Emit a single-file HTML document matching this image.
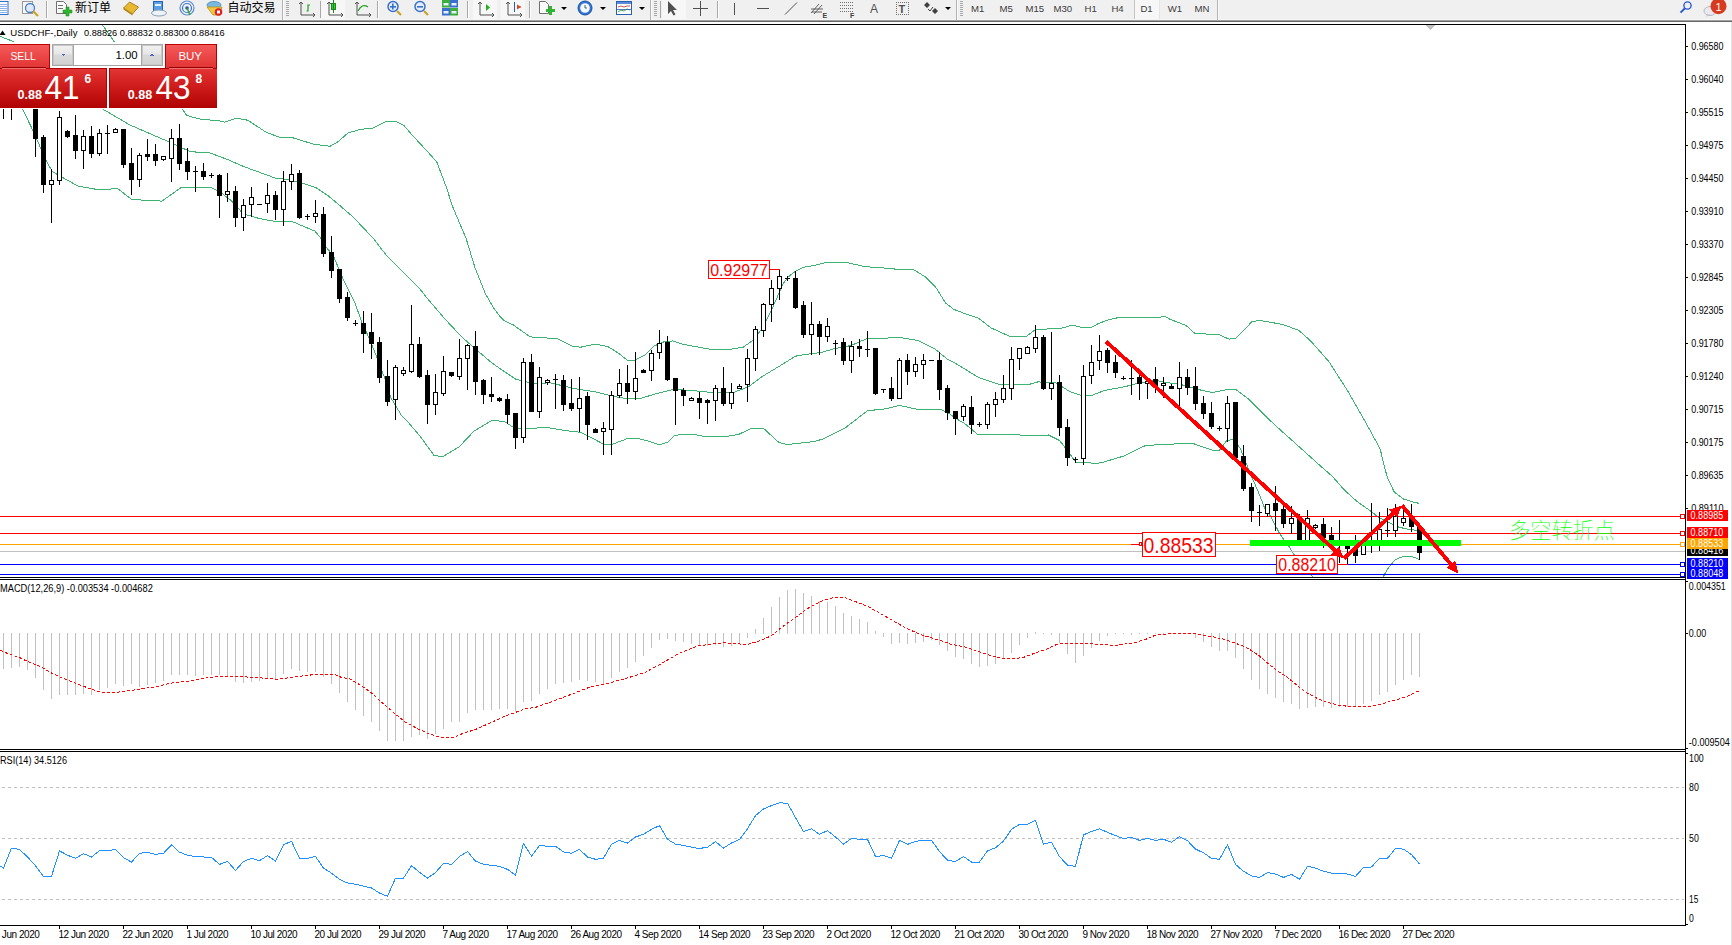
<!DOCTYPE html><html><head><meta charset="utf-8"><title>USDCHF-,Daily</title>
<style>html,body{margin:0;padding:0;background:#fff;width:1732px;height:945px;overflow:hidden}svg{display:block}text{white-space:pre}</style></head><body>
<svg width="1732" height="945" viewBox="0 0 1732 945" shape-rendering="crispEdges">
<rect x="0" y="22" width="1731" height="923" fill="#ffffff"/>
<rect x="1731" y="21" width="1" height="924" fill="#e2e2e2"/>
<rect x="0" y="24" width="1686" height="1" fill="#000"/>
<rect x="1685" y="24" width="1" height="902" fill="#000"/>
<rect x="0" y="577" width="1686" height="1" fill="#000"/>
<rect x="0" y="579" width="1686" height="1" fill="#000"/>
<rect x="0" y="749" width="1686" height="1" fill="#000"/>
<rect x="0" y="751" width="1686" height="1" fill="#000"/>
<rect x="0" y="925" width="1686" height="1" fill="#000"/>
<path d="M1425 25h10l-5 5z" fill="#c0c0c0"/>
<svg x="0" y="25" width="1685" height="552" viewBox="0 25 1685 552" overflow="hidden">
<polyline points="99.0,22.0 104.0,27.0 114.0,41.5 120.0,50.0 150.0,85.0 175.0,103.0 182.9,109.7 186.7,115.5 200.0,119.0 220.0,121.0 224.8,122.1 236.3,118.3 247.7,120.2 266.8,132.6 280.1,137.4 291.5,137.4 314.4,144.4 330.2,146.2 337.8,141.9 347.9,133.0 360.7,129.2 372.1,128.5 386.1,121.6 396.2,121.6 403.8,125.4 411.5,134.3 429.2,153.4 436.9,162.2 447.0,188.9 452.1,205.4 466.1,238.5 475.0,267.7 485.1,293.1 493.6,308.0 500.4,317.2 505.0,321.2 513.1,324.8 530.2,336.9 557.2,338.7 571.6,345.9 580.6,347.2 595.0,344.1 607.6,346.4 618.4,353.1 627.4,360.3 634.6,360.3 645.4,354.9 654.4,345.9 664.0,341.8 673.0,340.9 683.8,344.5 709.0,349.0 732.4,349.0 743.2,347.2 752.2,340.9 763.0,327.4 770.2,313.0 777.4,296.8 782.8,284.2 788.2,277.0 795.4,271.2 804.4,267.1 815.0,265.3 825.1,262.6 847.2,262.6 865.3,266.7 885.4,268.1 899.5,269.5 913.5,269.5 925.6,277.1 935.7,287.2 945.7,303.2 953.7,309.3 965.0,313.7 978.4,318.0 991.0,327.9 1009.0,336.0 1027.0,336.0 1036.0,329.2 1059.4,328.8 1072.0,325.2 1082.0,327.4 1091.4,327.4 1098.7,323.4 1109.1,319.6 1118.8,317.5 1159.0,317.5 1164.5,316.3 1170.1,319.3 1186.0,325.5 1195.0,333.5 1199.5,333.6 1219.6,334.9 1228.9,339.1 1235.9,338.4 1252.2,321.4 1260.3,320.5 1282.4,324.4 1298.7,330.3 1310.4,340.7 1329.0,361.7 1347.6,390.8 1366.2,423.4 1380.2,449.0 1384.0,465.0 1387.2,476.9 1394.2,492.0 1403.5,499.0 1411.3,501.5 1419.5,503.5" fill="none" stroke="#3cb371" stroke-width="1" shape-rendering="crispEdges"/>
<polyline points="0.0,36.4 12.4,41.1 40.0,62.0 70.0,85.0 95.0,103.0 104.0,109.8 130.0,125.0 168.3,141.6 190.5,151.7 210.0,152.9 228.7,160.0 244.3,166.8 275.7,178.2 288.0,179.5 303.3,183.3 316.7,188.1 328.0,195.7 335.2,201.6 353.0,216.9 373.4,238.5 386.1,255.0 403.8,272.8 419.1,288.0 429.2,300.7 444.5,318.5 462.3,337.5 479.2,352.1 491.8,362.9 505.0,372.0 515.8,379.2 533.8,383.7 550.0,382.8 577.0,389.1 595.0,391.8 613.0,396.3 629.2,399.0 641.8,398.1 655.0,394.0 673.0,389.5 691.0,390.4 709.0,392.2 734.2,392.2 748.6,386.8 763.0,376.0 781.0,365.2 795.4,356.2 805.0,354.5 821.1,352.5 835.2,348.5 851.2,345.5 867.3,338.4 881.4,338.4 899.5,337.4 917.6,340.4 935.7,349.5 947.7,359.5 955.0,363.0 978.4,377.4 1000.0,384.6 1027.0,385.0 1037.8,381.9 1055.8,382.8 1070.2,391.8 1081.0,395.4 1091.8,395.4 1105.0,390.3 1125.1,386.7 1137.2,383.3 1155.3,380.3 1171.3,383.3 1180.0,384.3 1198.6,389.6 1212.6,392.6 1226.6,389.6 1235.9,389.6 1249.8,400.1 1273.1,423.4 1296.4,444.3 1319.7,465.3 1333.0,477.0 1342.9,488.5 1349.8,495.0 1357.0,501.5 1370.8,511.2 1378.9,517.6 1387.0,521.7 1393.5,524.9 1399.1,527.3 1407.2,529.0 1419.5,530.8" fill="none" stroke="#3cb371" stroke-width="1" shape-rendering="crispEdges"/>
<polyline points="0.0,62.0 10.0,80.0 18.0,98.0 23.0,109.8 35.0,135.0 45.7,160.0 52.4,171.7 77.8,186.0 100.0,190.0 117.5,188.4 131.7,199.5 162.0,201.1 181.0,187.6 210.0,187.1 221.4,192.9 231.0,200.5 243.3,213.8 259.5,218.6 274.8,221.4 291.9,221.4 305.2,227.1 314.8,231.0 320.5,237.6 326.2,247.1 333.8,256.7 343.3,279.5 354.8,302.4 362.2,323.3 369.4,338.6 376.6,356.6 384.7,378.2 391.0,398.0 401.8,416.0 409.0,423.2 419.8,435.8 434.2,455.6 443.2,456.5 459.4,446.6 473.8,431.3 491.8,420.5 504.4,421.4 514.0,427.8 526.6,428.7 546.4,427.4 564.4,430.5 580.6,432.3 591.4,437.7 603.1,444.0 613.0,444.0 627.4,438.6 638.2,438.6 649.0,441.3 659.3,444.8 667.4,442.4 675.0,435.2 687.4,434.3 696.0,434.8 704.5,436.4 726.4,436.4 738.8,434.3 750.2,429.0 754.0,428.4 763.6,428.4 778.8,442.4 787.4,444.6 815.0,441.4 823.1,438.9 845.2,427.9 867.3,410.8 885.4,408.8 899.5,405.4 917.6,409.4 941.7,409.8 949.7,413.8 955.0,417.9 965.0,423.8 978.4,435.0 1009.0,434.1 1030.6,435.9 1048.6,435.0 1059.4,440.4 1066.6,449.4 1075.6,462.0 1097.2,463.4 1105.0,461.7 1125.1,455.6 1145.2,445.6 1165.3,444.2 1193.4,443.6 1207.5,448.6 1212.6,450.1 1219.6,450.1 1226.6,440.8 1233.5,439.2 1240.5,449.0 1249.8,472.3 1257.8,490.8 1265.0,508.9 1270.8,516.5 1279.8,534.0 1290.0,548.0 1294.4,555.3 1305.0,568.0 1315.7,580.0 1330.0,590.0 1370.0,590.0 1383.4,576.5 1387.0,570.0 1390.0,566.0 1395.0,559.7 1403.2,556.4 1411.3,556.3 1419.5,559.5" fill="none" stroke="#3cb371" stroke-width="1" shape-rendering="crispEdges"/>
<rect x="0" y="516" width="1685" height="1" fill="#ff0000"/>
<rect x="0" y="533" width="1685" height="1" fill="#ff0000"/>
<rect x="0" y="544" width="1685" height="1" fill="#ffa500"/>
<rect x="0" y="551" width="1685" height="1" fill="#c0c0c0"/>
<rect x="0" y="564" width="1685" height="1" fill="#0000ff"/>
<rect x="0" y="574" width="1685" height="1" fill="#0000ff"/>
<rect x="3" y="55" width="1" height="64"/>
<rect x="1" y="60" width="5" height="41"/>
<rect x="11" y="60" width="1" height="60"/>
<rect x="9" y="70" width="5" height="31"/>
<rect x="10" y="71" width="3" height="29" fill="#fff"/>
<rect x="19" y="50" width="1" height="51"/>
<rect x="17" y="60" width="5" height="31"/>
<rect x="27" y="55" width="1" height="46"/>
<rect x="25" y="60" width="5" height="31"/>
<rect x="26" y="61" width="3" height="29" fill="#fff"/>
<rect x="35" y="90" width="1" height="67"/>
<rect x="33" y="95" width="5" height="44"/>
<rect x="43" y="135" width="1" height="58"/>
<rect x="41" y="137" width="5" height="48"/>
<rect x="51" y="169" width="1" height="54"/>
<rect x="49" y="180" width="5" height="5"/>
<rect x="50" y="181" width="3" height="3" fill="#fff"/>
<rect x="59" y="111" width="1" height="74"/>
<rect x="57" y="117" width="5" height="64"/>
<rect x="58" y="118" width="3" height="62" fill="#fff"/>
<rect x="67" y="130" width="1" height="8"/>
<rect x="65" y="131" width="5" height="6"/>
<rect x="75" y="115" width="1" height="44"/>
<rect x="73" y="135" width="5" height="16"/>
<rect x="83" y="130" width="1" height="39"/>
<rect x="81" y="136" width="5" height="15"/>
<rect x="82" y="137" width="3" height="13" fill="#fff"/>
<rect x="91" y="126" width="1" height="32"/>
<rect x="89" y="136" width="5" height="18"/>
<rect x="99" y="129" width="1" height="27"/>
<rect x="97" y="133" width="5" height="21"/>
<rect x="98" y="134" width="3" height="19" fill="#fff"/>
<rect x="107" y="125" width="1" height="29"/>
<rect x="105" y="133" width="5" height="1"/>
<rect x="115" y="128" width="1" height="5"/>
<rect x="113" y="129" width="5" height="4"/>
<rect x="114" y="130" width="3" height="2" fill="#fff"/>
<rect x="123" y="129" width="1" height="39"/>
<rect x="121" y="129" width="5" height="36"/>
<rect x="131" y="148" width="1" height="47"/>
<rect x="129" y="163" width="5" height="17"/>
<rect x="139" y="153" width="1" height="34"/>
<rect x="137" y="155" width="5" height="25"/>
<rect x="138" y="156" width="3" height="23" fill="#fff"/>
<rect x="147" y="139" width="1" height="22"/>
<rect x="145" y="154" width="5" height="3"/>
<rect x="155" y="144" width="1" height="22"/>
<rect x="153" y="154" width="5" height="7"/>
<rect x="163" y="156" width="1" height="5"/>
<rect x="161" y="156" width="5" height="4"/>
<rect x="162" y="157" width="3" height="2" fill="#fff"/>
<rect x="171" y="129" width="1" height="53"/>
<rect x="169" y="138" width="5" height="21"/>
<rect x="170" y="139" width="3" height="19" fill="#fff"/>
<rect x="179" y="124" width="1" height="46"/>
<rect x="177" y="138" width="5" height="26"/>
<rect x="187" y="148" width="1" height="32"/>
<rect x="185" y="161" width="5" height="11"/>
<rect x="195" y="166" width="1" height="26"/>
<rect x="193" y="171" width="5" height="1"/>
<rect x="203" y="163" width="1" height="17"/>
<rect x="201" y="171" width="5" height="6"/>
<rect x="211" y="173" width="1" height="5"/>
<rect x="209" y="175" width="5" height="1"/>
<rect x="219" y="174" width="1" height="44"/>
<rect x="217" y="175" width="5" height="21"/>
<rect x="227" y="173" width="1" height="29"/>
<rect x="225" y="191" width="5" height="4"/>
<rect x="226" y="192" width="3" height="2" fill="#fff"/>
<rect x="235" y="186" width="1" height="41"/>
<rect x="233" y="191" width="5" height="27"/>
<rect x="243" y="199" width="1" height="32"/>
<rect x="241" y="205" width="5" height="13"/>
<rect x="242" y="206" width="3" height="11" fill="#fff"/>
<rect x="251" y="187" width="1" height="30"/>
<rect x="249" y="197" width="5" height="8"/>
<rect x="250" y="198" width="3" height="6" fill="#fff"/>
<rect x="257" y="204" width="5" height="1"/>
<rect x="267" y="183" width="1" height="30"/>
<rect x="265" y="195" width="5" height="9"/>
<rect x="266" y="196" width="3" height="7" fill="#fff"/>
<rect x="275" y="191" width="1" height="29"/>
<rect x="273" y="195" width="5" height="15"/>
<rect x="283" y="171" width="1" height="55"/>
<rect x="281" y="181" width="5" height="29"/>
<rect x="282" y="182" width="3" height="27" fill="#fff"/>
<rect x="291" y="164" width="1" height="26"/>
<rect x="289" y="174" width="5" height="8"/>
<rect x="290" y="175" width="3" height="6" fill="#fff"/>
<rect x="299" y="170" width="1" height="49"/>
<rect x="297" y="173" width="5" height="45"/>
<rect x="307" y="214" width="1" height="6"/>
<rect x="305" y="216" width="5" height="1"/>
<rect x="315" y="200" width="1" height="23"/>
<rect x="313" y="213" width="5" height="4"/>
<rect x="314" y="214" width="3" height="2" fill="#fff"/>
<rect x="323" y="207" width="1" height="50"/>
<rect x="321" y="214" width="5" height="40"/>
<rect x="331" y="236" width="1" height="42"/>
<rect x="329" y="252" width="5" height="19"/>
<rect x="339" y="269" width="1" height="34"/>
<rect x="337" y="269" width="5" height="30"/>
<rect x="347" y="292" width="1" height="29"/>
<rect x="345" y="297" width="5" height="21"/>
<rect x="355" y="320" width="1" height="6"/>
<rect x="353" y="323" width="5" height="1"/>
<rect x="363" y="311" width="1" height="42"/>
<rect x="361" y="323" width="5" height="11"/>
<rect x="371" y="313" width="1" height="46"/>
<rect x="369" y="332" width="5" height="12"/>
<rect x="379" y="337" width="1" height="46"/>
<rect x="377" y="342" width="5" height="36"/>
<rect x="387" y="360" width="1" height="46"/>
<rect x="385" y="376" width="5" height="26"/>
<rect x="395" y="365" width="1" height="55"/>
<rect x="393" y="367" width="5" height="33"/>
<rect x="394" y="368" width="3" height="31" fill="#fff"/>
<rect x="403" y="367" width="1" height="9"/>
<rect x="401" y="370" width="5" height="4"/>
<rect x="402" y="371" width="3" height="2" fill="#fff"/>
<rect x="411" y="305" width="1" height="68"/>
<rect x="409" y="344" width="5" height="28"/>
<rect x="410" y="345" width="3" height="26" fill="#fff"/>
<rect x="419" y="337" width="1" height="41"/>
<rect x="417" y="344" width="5" height="33"/>
<rect x="427" y="370" width="1" height="54"/>
<rect x="425" y="375" width="5" height="30"/>
<rect x="435" y="374" width="1" height="41"/>
<rect x="433" y="392" width="5" height="13"/>
<rect x="434" y="393" width="3" height="11" fill="#fff"/>
<rect x="443" y="356" width="1" height="40"/>
<rect x="441" y="371" width="5" height="23"/>
<rect x="442" y="372" width="3" height="21" fill="#fff"/>
<rect x="451" y="372" width="1" height="5"/>
<rect x="449" y="372" width="5" height="4"/>
<rect x="459" y="339" width="1" height="41"/>
<rect x="457" y="358" width="5" height="19"/>
<rect x="458" y="359" width="3" height="17" fill="#fff"/>
<rect x="467" y="344" width="1" height="46"/>
<rect x="465" y="345" width="5" height="14"/>
<rect x="466" y="346" width="3" height="12" fill="#fff"/>
<rect x="475" y="331" width="1" height="64"/>
<rect x="473" y="346" width="5" height="36"/>
<rect x="483" y="379" width="1" height="25"/>
<rect x="481" y="380" width="5" height="15"/>
<rect x="491" y="377" width="1" height="25"/>
<rect x="489" y="394" width="5" height="3"/>
<rect x="499" y="397" width="1" height="5"/>
<rect x="497" y="398" width="5" height="3"/>
<rect x="507" y="394" width="1" height="30"/>
<rect x="505" y="399" width="5" height="16"/>
<rect x="515" y="413" width="1" height="36"/>
<rect x="513" y="413" width="5" height="25"/>
<rect x="523" y="358" width="1" height="85"/>
<rect x="521" y="362" width="5" height="76"/>
<rect x="522" y="363" width="3" height="74" fill="#fff"/>
<rect x="531" y="354" width="1" height="58"/>
<rect x="529" y="362" width="5" height="50"/>
<rect x="539" y="367" width="1" height="51"/>
<rect x="537" y="377" width="5" height="35"/>
<rect x="538" y="378" width="3" height="33" fill="#fff"/>
<rect x="547" y="379" width="1" height="6"/>
<rect x="545" y="380" width="5" height="3"/>
<rect x="546" y="381" width="3" height="1" fill="#fff"/>
<rect x="555" y="374" width="1" height="35"/>
<rect x="553" y="379" width="5" height="1"/>
<rect x="563" y="375" width="1" height="36"/>
<rect x="561" y="380" width="5" height="25"/>
<rect x="571" y="379" width="1" height="32"/>
<rect x="569" y="403" width="5" height="6"/>
<rect x="579" y="377" width="1" height="55"/>
<rect x="577" y="398" width="5" height="11"/>
<rect x="578" y="399" width="3" height="9" fill="#fff"/>
<rect x="587" y="392" width="1" height="48"/>
<rect x="585" y="396" width="5" height="29"/>
<rect x="595" y="428" width="1" height="5"/>
<rect x="593" y="429" width="5" height="4"/>
<rect x="603" y="422" width="1" height="33"/>
<rect x="601" y="428" width="5" height="4"/>
<rect x="602" y="429" width="3" height="2" fill="#fff"/>
<rect x="611" y="391" width="1" height="64"/>
<rect x="609" y="395" width="5" height="35"/>
<rect x="610" y="396" width="3" height="33" fill="#fff"/>
<rect x="619" y="369" width="1" height="29"/>
<rect x="617" y="383" width="5" height="13"/>
<rect x="618" y="384" width="3" height="11" fill="#fff"/>
<rect x="627" y="365" width="1" height="39"/>
<rect x="625" y="383" width="5" height="9"/>
<rect x="635" y="352" width="1" height="48"/>
<rect x="633" y="378" width="5" height="14"/>
<rect x="634" y="379" width="3" height="12" fill="#fff"/>
<rect x="643" y="369" width="1" height="4"/>
<rect x="641" y="370" width="5" height="3"/>
<rect x="651" y="350" width="1" height="31"/>
<rect x="649" y="353" width="5" height="18"/>
<rect x="650" y="354" width="3" height="16" fill="#fff"/>
<rect x="659" y="330" width="1" height="29"/>
<rect x="657" y="343" width="5" height="10"/>
<rect x="658" y="344" width="3" height="8" fill="#fff"/>
<rect x="667" y="336" width="1" height="45"/>
<rect x="665" y="342" width="5" height="38"/>
<rect x="675" y="378" width="1" height="47"/>
<rect x="673" y="378" width="5" height="13"/>
<rect x="683" y="388" width="1" height="18"/>
<rect x="681" y="390" width="5" height="6"/>
<rect x="691" y="397" width="1" height="4"/>
<rect x="689" y="398" width="5" height="3"/>
<rect x="690" y="399" width="3" height="1" fill="#fff"/>
<rect x="699" y="392" width="1" height="27"/>
<rect x="697" y="398" width="5" height="5"/>
<rect x="707" y="399" width="1" height="25"/>
<rect x="705" y="400" width="5" height="3"/>
<rect x="715" y="385" width="1" height="36"/>
<rect x="713" y="388" width="5" height="13"/>
<rect x="714" y="389" width="3" height="11" fill="#fff"/>
<rect x="723" y="367" width="1" height="39"/>
<rect x="721" y="388" width="5" height="16"/>
<rect x="731" y="383" width="1" height="26"/>
<rect x="729" y="392" width="5" height="12"/>
<rect x="730" y="393" width="3" height="10" fill="#fff"/>
<rect x="739" y="384" width="1" height="5"/>
<rect x="737" y="386" width="5" height="3"/>
<rect x="738" y="387" width="3" height="1" fill="#fff"/>
<rect x="747" y="349" width="1" height="53"/>
<rect x="745" y="358" width="5" height="27"/>
<rect x="746" y="359" width="3" height="25" fill="#fff"/>
<rect x="755" y="326" width="1" height="45"/>
<rect x="753" y="329" width="5" height="30"/>
<rect x="754" y="330" width="3" height="28" fill="#fff"/>
<rect x="763" y="303" width="1" height="34"/>
<rect x="761" y="304" width="5" height="27"/>
<rect x="762" y="305" width="3" height="25" fill="#fff"/>
<rect x="771" y="280" width="1" height="42"/>
<rect x="769" y="288" width="5" height="17"/>
<rect x="770" y="289" width="3" height="15" fill="#fff"/>
<rect x="779" y="270" width="1" height="30"/>
<rect x="777" y="276" width="5" height="13"/>
<rect x="778" y="277" width="3" height="11" fill="#fff"/>
<rect x="787" y="276" width="1" height="5"/>
<rect x="785" y="278" width="5" height="1"/>
<rect x="795" y="271" width="1" height="38"/>
<rect x="793" y="278" width="5" height="30"/>
<rect x="803" y="301" width="1" height="37"/>
<rect x="801" y="305" width="5" height="30"/>
<rect x="811" y="302" width="1" height="53"/>
<rect x="809" y="324" width="5" height="11"/>
<rect x="810" y="325" width="3" height="9" fill="#fff"/>
<rect x="819" y="321" width="1" height="34"/>
<rect x="817" y="324" width="5" height="13"/>
<rect x="827" y="318" width="1" height="24"/>
<rect x="825" y="326" width="5" height="11"/>
<rect x="826" y="327" width="3" height="9" fill="#fff"/>
<rect x="835" y="340" width="1" height="15"/>
<rect x="833" y="343" width="5" height="1"/>
<rect x="843" y="338" width="1" height="27"/>
<rect x="841" y="342" width="5" height="19"/>
<rect x="851" y="341" width="1" height="32"/>
<rect x="849" y="346" width="5" height="15"/>
<rect x="850" y="347" width="3" height="13" fill="#fff"/>
<rect x="859" y="339" width="1" height="18"/>
<rect x="857" y="346" width="5" height="3"/>
<rect x="867" y="331" width="1" height="26"/>
<rect x="865" y="349" width="5" height="1"/>
<rect x="875" y="348" width="1" height="47"/>
<rect x="873" y="348" width="5" height="46"/>
<rect x="883" y="389" width="1" height="4"/>
<rect x="881" y="389" width="5" height="1"/>
<rect x="891" y="377" width="1" height="24"/>
<rect x="889" y="388" width="5" height="11"/>
<rect x="899" y="358" width="1" height="41"/>
<rect x="897" y="360" width="5" height="39"/>
<rect x="898" y="361" width="3" height="37" fill="#fff"/>
<rect x="907" y="354" width="1" height="31"/>
<rect x="905" y="360" width="5" height="12"/>
<rect x="915" y="357" width="1" height="20"/>
<rect x="913" y="364" width="5" height="8"/>
<rect x="914" y="365" width="3" height="6" fill="#fff"/>
<rect x="923" y="354" width="1" height="25"/>
<rect x="921" y="360" width="5" height="5"/>
<rect x="922" y="361" width="3" height="3" fill="#fff"/>
<rect x="929" y="360" width="5" height="1"/>
<rect x="939" y="352" width="1" height="48"/>
<rect x="937" y="360" width="5" height="30"/>
<rect x="947" y="385" width="1" height="35"/>
<rect x="945" y="388" width="5" height="25"/>
<rect x="955" y="411" width="1" height="24"/>
<rect x="953" y="411" width="5" height="8"/>
<rect x="963" y="404" width="1" height="17"/>
<rect x="961" y="406" width="5" height="11"/>
<rect x="962" y="407" width="3" height="9" fill="#fff"/>
<rect x="971" y="396" width="1" height="38"/>
<rect x="969" y="407" width="5" height="18"/>
<rect x="979" y="422" width="1" height="5"/>
<rect x="977" y="424" width="5" height="1"/>
<rect x="987" y="402" width="1" height="27"/>
<rect x="985" y="404" width="5" height="21"/>
<rect x="986" y="405" width="3" height="19" fill="#fff"/>
<rect x="995" y="392" width="1" height="25"/>
<rect x="993" y="399" width="5" height="6"/>
<rect x="994" y="400" width="3" height="4" fill="#fff"/>
<rect x="1003" y="375" width="1" height="28"/>
<rect x="1001" y="388" width="5" height="12"/>
<rect x="1002" y="389" width="3" height="10" fill="#fff"/>
<rect x="1011" y="347" width="1" height="53"/>
<rect x="1009" y="359" width="5" height="30"/>
<rect x="1010" y="360" width="3" height="28" fill="#fff"/>
<rect x="1019" y="348" width="1" height="22"/>
<rect x="1017" y="348" width="5" height="11"/>
<rect x="1018" y="349" width="3" height="9" fill="#fff"/>
<rect x="1027" y="346" width="1" height="8"/>
<rect x="1025" y="347" width="5" height="7"/>
<rect x="1026" y="348" width="3" height="5" fill="#fff"/>
<rect x="1035" y="325" width="1" height="28"/>
<rect x="1033" y="337" width="5" height="12"/>
<rect x="1034" y="338" width="3" height="10" fill="#fff"/>
<rect x="1043" y="335" width="1" height="55"/>
<rect x="1041" y="337" width="5" height="52"/>
<rect x="1051" y="332" width="1" height="68"/>
<rect x="1049" y="383" width="5" height="6"/>
<rect x="1050" y="384" width="3" height="4" fill="#fff"/>
<rect x="1059" y="375" width="1" height="61"/>
<rect x="1057" y="382" width="5" height="46"/>
<rect x="1067" y="419" width="1" height="47"/>
<rect x="1065" y="427" width="5" height="31"/>
<rect x="1075" y="457" width="1" height="6"/>
<rect x="1073" y="459" width="5" height="1"/>
<rect x="1083" y="365" width="1" height="100"/>
<rect x="1081" y="376" width="5" height="83"/>
<rect x="1082" y="377" width="3" height="81" fill="#fff"/>
<rect x="1091" y="345" width="1" height="39"/>
<rect x="1089" y="362" width="5" height="14"/>
<rect x="1090" y="363" width="3" height="12" fill="#fff"/>
<rect x="1099" y="335" width="1" height="35"/>
<rect x="1097" y="351" width="5" height="10"/>
<rect x="1098" y="352" width="3" height="8" fill="#fff"/>
<rect x="1107" y="348" width="1" height="25"/>
<rect x="1105" y="350" width="5" height="13"/>
<rect x="1115" y="355" width="1" height="23"/>
<rect x="1113" y="362" width="5" height="11"/>
<rect x="1123" y="376" width="1" height="4"/>
<rect x="1121" y="378" width="5" height="1"/>
<rect x="1131" y="360" width="1" height="35"/>
<rect x="1129" y="378" width="5" height="1"/>
<rect x="1139" y="373" width="1" height="27"/>
<rect x="1137" y="377" width="5" height="7"/>
<rect x="1147" y="380" width="1" height="19"/>
<rect x="1145" y="381" width="5" height="3"/>
<rect x="1146" y="382" width="3" height="1" fill="#fff"/>
<rect x="1155" y="367" width="1" height="26"/>
<rect x="1153" y="379" width="5" height="7"/>
<rect x="1163" y="377" width="1" height="21"/>
<rect x="1161" y="383" width="5" height="3"/>
<rect x="1162" y="384" width="3" height="1" fill="#fff"/>
<rect x="1171" y="384" width="1" height="5"/>
<rect x="1169" y="386" width="5" height="3"/>
<rect x="1179" y="362" width="1" height="45"/>
<rect x="1177" y="377" width="5" height="12"/>
<rect x="1178" y="378" width="3" height="10" fill="#fff"/>
<rect x="1187" y="369" width="1" height="26"/>
<rect x="1185" y="377" width="5" height="11"/>
<rect x="1195" y="367" width="1" height="43"/>
<rect x="1193" y="386" width="5" height="18"/>
<rect x="1203" y="396" width="1" height="23"/>
<rect x="1201" y="403" width="5" height="11"/>
<rect x="1211" y="402" width="1" height="27"/>
<rect x="1209" y="413" width="5" height="14"/>
<rect x="1219" y="426" width="1" height="5"/>
<rect x="1217" y="428" width="5" height="1"/>
<rect x="1227" y="396" width="1" height="46"/>
<rect x="1225" y="403" width="5" height="26"/>
<rect x="1226" y="404" width="3" height="24" fill="#fff"/>
<rect x="1235" y="402" width="1" height="56"/>
<rect x="1233" y="402" width="5" height="56"/>
<rect x="1243" y="445" width="1" height="46"/>
<rect x="1241" y="456" width="5" height="33"/>
<rect x="1251" y="483" width="1" height="39"/>
<rect x="1249" y="487" width="5" height="24"/>
<rect x="1259" y="505" width="1" height="21"/>
<rect x="1257" y="512" width="5" height="1"/>
<rect x="1267" y="504" width="1" height="13"/>
<rect x="1265" y="504" width="5" height="10"/>
<rect x="1266" y="505" width="3" height="8" fill="#fff"/>
<rect x="1275" y="486" width="1" height="45"/>
<rect x="1273" y="503" width="5" height="8"/>
<rect x="1283" y="506" width="1" height="22"/>
<rect x="1281" y="509" width="5" height="15"/>
<rect x="1291" y="506" width="1" height="28"/>
<rect x="1289" y="518" width="5" height="6"/>
<rect x="1290" y="519" width="3" height="4" fill="#fff"/>
<rect x="1299" y="514" width="1" height="29"/>
<rect x="1297" y="519" width="5" height="23"/>
<rect x="1307" y="510" width="1" height="34"/>
<rect x="1305" y="518" width="5" height="24"/>
<rect x="1306" y="519" width="3" height="22" fill="#fff"/>
<rect x="1315" y="524" width="1" height="5"/>
<rect x="1313" y="525" width="5" height="3"/>
<rect x="1314" y="526" width="3" height="1" fill="#fff"/>
<rect x="1323" y="518" width="1" height="30"/>
<rect x="1321" y="524" width="5" height="14"/>
<rect x="1331" y="527" width="1" height="17"/>
<rect x="1329" y="535" width="5" height="8"/>
<rect x="1339" y="520" width="1" height="43"/>
<rect x="1337" y="542" width="5" height="1"/>
<rect x="1347" y="546" width="1" height="19"/>
<rect x="1345" y="546" width="5" height="3"/>
<rect x="1355" y="535" width="1" height="28"/>
<rect x="1353" y="548" width="5" height="8"/>
<rect x="1363" y="541" width="1" height="14"/>
<rect x="1361" y="545" width="5" height="10"/>
<rect x="1362" y="546" width="3" height="8" fill="#fff"/>
<rect x="1371" y="503" width="1" height="50"/>
<rect x="1369" y="542" width="5" height="1"/>
<rect x="1379" y="512" width="1" height="39"/>
<rect x="1377" y="529" width="5" height="14"/>
<rect x="1378" y="530" width="3" height="12" fill="#fff"/>
<rect x="1387" y="508" width="1" height="29"/>
<rect x="1385" y="530" width="5" height="1"/>
<rect x="1395" y="504" width="1" height="33"/>
<rect x="1393" y="516" width="5" height="15"/>
<rect x="1394" y="517" width="3" height="13" fill="#fff"/>
<rect x="1403" y="510" width="1" height="16"/>
<rect x="1401" y="518" width="5" height="5"/>
<rect x="1402" y="519" width="3" height="3" fill="#fff"/>
<rect x="1411" y="504" width="1" height="28"/>
<rect x="1409" y="518" width="5" height="9"/>
<rect x="1419" y="525" width="1" height="35"/>
<rect x="1417" y="526" width="5" height="27"/>
<rect x="1680.5" y="514.5" width="4" height="4" fill="#fff" stroke="#ff0000" stroke-width="1"/>
<rect x="1680.5" y="531.5" width="4" height="4" fill="#fff" stroke="#ff0000" stroke-width="1"/>
<rect x="1680.5" y="542.5" width="4" height="4" fill="#fff" stroke="#ffa500" stroke-width="1"/>
<rect x="1680.5" y="562.5" width="4" height="4" fill="#fff" stroke="#0000ff" stroke-width="1"/>
<rect x="1680.5" y="572.5" width="4" height="4" fill="#fff" stroke="#0000ff" stroke-width="1"/>
<rect x="1250" y="540" width="211" height="6" fill="#00ff00"/>
<line x1="1106.0" y1="341.5" x2="1336.6" y2="551.8" stroke="#ff0000" stroke-width="4"/>
<path d="M1344.0 558.5 L1331.4 554.5 L1338.8 546.4 z" fill="#ff0000"/>
<line x1="1344.0" y1="558.5" x2="1394.6" y2="512.2" stroke="#ff0000" stroke-width="4"/>
<path d="M1402.0 505.5 L1396.9 517.7 L1389.4 509.5 z" fill="#ff0000"/>
<line x1="1402.0" y1="505.5" x2="1452.1" y2="565.8" stroke="#ff0000" stroke-width="4"/>
<path d="M1458.5 573.5 L1446.6 567.8 L1455.1 560.8 z" fill="#ff0000"/>
<rect x="708.5" y="260.5" width="61" height="18" fill="#fff" stroke="#ff0000"/>
<rect x="770" y="269" width="10" height="1" fill="#ff0000"/>
<text x="710.2" y="276.1" font-family="'Liberation Sans', Arial, sans-serif" font-size="17" fill="#ff0000" textLength="57.8" lengthAdjust="spacingAndGlyphs">0.92977</text>
<rect x="1131" y="544" width="8" height="1" fill="#ff0000"/>
<rect x="1139.5" y="542.5" width="2" height="2.5" fill="#fff" stroke="#ff0000"/>
<rect x="1142.5" y="532.5" width="73" height="24" fill="#fff" stroke="#ff0000"/>
<text x="1143.6" y="552.6" font-family="'Liberation Sans', Arial, sans-serif" font-size="22.4" fill="#ff0000" textLength="70" lengthAdjust="spacingAndGlyphs">0.88533</text>
<rect x="1276.5" y="555.5" width="61" height="18" fill="#fff" stroke="#ff0000"/>
<rect x="1338" y="564" width="10" height="1" fill="#ff0000"/>
<text x="1278.3" y="571.3" font-family="'Liberation Sans', Arial, sans-serif" font-size="17.6" fill="#ff0000" textLength="57.6" lengthAdjust="spacingAndGlyphs">0.88210</text>
<text x="1509" y="538" font-family="'Liberation Sans', 'Noto Sans CJK SC', sans-serif" font-size="21.2" font-weight="100" fill="#00ff00" textLength="106" lengthAdjust="spacingAndGlyphs">多空转折点</text>
</svg>
<path d="M-0.5 35 L2.5 30.5 L5.5 35z" fill="#000" shape-rendering="auto"/>
<text x="10.3" y="35.9" font-family="'Liberation Sans', Arial, sans-serif" font-size="9.7" fill="#000" textLength="67.2" lengthAdjust="spacingAndGlyphs">USDCHF-,Daily</text>
<text x="84" y="35.9" font-family="'Liberation Sans', Arial, sans-serif" font-size="9.7" fill="#000" textLength="140.6" lengthAdjust="spacingAndGlyphs">0.88826 0.88832 0.88300 0.88416</text>
<rect x="1686" y="46" width="2" height="1" fill="#000"/>
<text x="1691.2" y="50" font-family="'Liberation Sans', Arial, sans-serif" font-size="10" fill="#000" textLength="32.3" lengthAdjust="spacingAndGlyphs">0.96580</text>
<rect x="1686" y="79" width="2" height="1" fill="#000"/>
<text x="1691.2" y="83" font-family="'Liberation Sans', Arial, sans-serif" font-size="10" fill="#000" textLength="32.3" lengthAdjust="spacingAndGlyphs">0.96040</text>
<rect x="1686" y="112" width="2" height="1" fill="#000"/>
<text x="1691.2" y="116" font-family="'Liberation Sans', Arial, sans-serif" font-size="10" fill="#000" textLength="32.3" lengthAdjust="spacingAndGlyphs">0.95515</text>
<rect x="1686" y="145" width="2" height="1" fill="#000"/>
<text x="1691.2" y="149" font-family="'Liberation Sans', Arial, sans-serif" font-size="10" fill="#000" textLength="32.3" lengthAdjust="spacingAndGlyphs">0.94975</text>
<rect x="1686" y="178" width="2" height="1" fill="#000"/>
<text x="1691.2" y="182" font-family="'Liberation Sans', Arial, sans-serif" font-size="10" fill="#000" textLength="32.3" lengthAdjust="spacingAndGlyphs">0.94450</text>
<rect x="1686" y="211" width="2" height="1" fill="#000"/>
<text x="1691.2" y="215" font-family="'Liberation Sans', Arial, sans-serif" font-size="10" fill="#000" textLength="32.3" lengthAdjust="spacingAndGlyphs">0.93910</text>
<rect x="1686" y="244" width="2" height="1" fill="#000"/>
<text x="1691.2" y="248" font-family="'Liberation Sans', Arial, sans-serif" font-size="10" fill="#000" textLength="32.3" lengthAdjust="spacingAndGlyphs">0.93370</text>
<rect x="1686" y="277" width="2" height="1" fill="#000"/>
<text x="1691.2" y="281" font-family="'Liberation Sans', Arial, sans-serif" font-size="10" fill="#000" textLength="32.3" lengthAdjust="spacingAndGlyphs">0.92845</text>
<rect x="1686" y="310" width="2" height="1" fill="#000"/>
<text x="1691.2" y="314" font-family="'Liberation Sans', Arial, sans-serif" font-size="10" fill="#000" textLength="32.3" lengthAdjust="spacingAndGlyphs">0.92305</text>
<rect x="1686" y="343" width="2" height="1" fill="#000"/>
<text x="1691.2" y="347" font-family="'Liberation Sans', Arial, sans-serif" font-size="10" fill="#000" textLength="32.3" lengthAdjust="spacingAndGlyphs">0.91780</text>
<rect x="1686" y="376" width="2" height="1" fill="#000"/>
<text x="1691.2" y="380" font-family="'Liberation Sans', Arial, sans-serif" font-size="10" fill="#000" textLength="32.3" lengthAdjust="spacingAndGlyphs">0.91240</text>
<rect x="1686" y="409" width="2" height="1" fill="#000"/>
<text x="1691.2" y="413" font-family="'Liberation Sans', Arial, sans-serif" font-size="10" fill="#000" textLength="32.3" lengthAdjust="spacingAndGlyphs">0.90715</text>
<rect x="1686" y="442" width="2" height="1" fill="#000"/>
<text x="1691.2" y="446" font-family="'Liberation Sans', Arial, sans-serif" font-size="10" fill="#000" textLength="32.3" lengthAdjust="spacingAndGlyphs">0.90175</text>
<rect x="1686" y="475" width="2" height="1" fill="#000"/>
<text x="1691.2" y="479" font-family="'Liberation Sans', Arial, sans-serif" font-size="10" fill="#000" textLength="32.3" lengthAdjust="spacingAndGlyphs">0.89635</text>
<rect x="1686" y="508" width="2" height="1" fill="#000"/>
<text x="1691.2" y="512" font-family="'Liberation Sans', Arial, sans-serif" font-size="10" fill="#000" textLength="32.3" lengthAdjust="spacingAndGlyphs">0.89110</text>
<rect x="1687" y="545" width="41" height="11" fill="#000000"/>
<text x="1690.6" y="554" font-family="'Liberation Sans', Arial, sans-serif" font-size="10" fill="#fff" textLength="32.6" lengthAdjust="spacingAndGlyphs">0.88416</text>
<rect x="1687" y="510" width="41" height="11" fill="#ff0000"/>
<text x="1690.6" y="519" font-family="'Liberation Sans', Arial, sans-serif" font-size="10" fill="#fff" textLength="32.6" lengthAdjust="spacingAndGlyphs">0.88985</text>
<rect x="1687" y="527" width="41" height="11" fill="#ff0000"/>
<text x="1690.6" y="536" font-family="'Liberation Sans', Arial, sans-serif" font-size="10" fill="#fff" textLength="32.6" lengthAdjust="spacingAndGlyphs">0.88710</text>
<rect x="1687" y="538" width="41" height="11" fill="#ffa500"/>
<text x="1690.6" y="547" font-family="'Liberation Sans', Arial, sans-serif" font-size="10" fill="#fff" textLength="32.6" lengthAdjust="spacingAndGlyphs">0.88533</text>
<rect x="1687" y="558" width="41" height="11" fill="#0000ff"/>
<text x="1690.6" y="567" font-family="'Liberation Sans', Arial, sans-serif" font-size="10" fill="#fff" textLength="32.6" lengthAdjust="spacingAndGlyphs">0.88210</text>
<rect x="1687" y="568" width="41" height="11" fill="#0000ff"/>
<text x="1690.6" y="577" font-family="'Liberation Sans', Arial, sans-serif" font-size="10" fill="#fff" textLength="32.6" lengthAdjust="spacingAndGlyphs">0.88048</text>
<svg x="0" y="580" width="1685" height="169" viewBox="0 580 1685 169" overflow="hidden">
<rect x="3" y="633" width="1" height="36" fill="#c0c0c0"/>
<rect x="11" y="633" width="1" height="35" fill="#c0c0c0"/>
<rect x="19" y="633" width="1" height="34" fill="#c0c0c0"/>
<rect x="27" y="633" width="1" height="37" fill="#c0c0c0"/>
<rect x="35" y="633" width="1" height="45" fill="#c0c0c0"/>
<rect x="43" y="633" width="1" height="57" fill="#c0c0c0"/>
<rect x="51" y="633" width="1" height="66" fill="#c0c0c0"/>
<rect x="59" y="633" width="1" height="62" fill="#c0c0c0"/>
<rect x="67" y="633" width="1" height="62" fill="#c0c0c0"/>
<rect x="75" y="633" width="1" height="62" fill="#c0c0c0"/>
<rect x="83" y="633" width="1" height="61" fill="#c0c0c0"/>
<rect x="91" y="633" width="1" height="62" fill="#c0c0c0"/>
<rect x="99" y="633" width="1" height="57" fill="#c0c0c0"/>
<rect x="107" y="633" width="1" height="55" fill="#c0c0c0"/>
<rect x="115" y="633" width="1" height="51" fill="#c0c0c0"/>
<rect x="123" y="633" width="1" height="53" fill="#c0c0c0"/>
<rect x="131" y="633" width="1" height="51" fill="#c0c0c0"/>
<rect x="139" y="633" width="1" height="54" fill="#c0c0c0"/>
<rect x="147" y="633" width="1" height="52" fill="#c0c0c0"/>
<rect x="155" y="633" width="1" height="50" fill="#c0c0c0"/>
<rect x="163" y="633" width="1" height="48" fill="#c0c0c0"/>
<rect x="171" y="633" width="1" height="42" fill="#c0c0c0"/>
<rect x="179" y="633" width="1" height="42" fill="#c0c0c0"/>
<rect x="187" y="633" width="1" height="42" fill="#c0c0c0"/>
<rect x="195" y="633" width="1" height="43" fill="#c0c0c0"/>
<rect x="203" y="633" width="1" height="42" fill="#c0c0c0"/>
<rect x="211" y="633" width="1" height="42" fill="#c0c0c0"/>
<rect x="219" y="633" width="1" height="42" fill="#c0c0c0"/>
<rect x="227" y="633" width="1" height="44" fill="#c0c0c0"/>
<rect x="235" y="633" width="1" height="49" fill="#c0c0c0"/>
<rect x="243" y="633" width="1" height="50" fill="#c0c0c0"/>
<rect x="251" y="633" width="1" height="49" fill="#c0c0c0"/>
<rect x="259" y="633" width="1" height="48" fill="#c0c0c0"/>
<rect x="267" y="633" width="1" height="45" fill="#c0c0c0"/>
<rect x="275" y="633" width="1" height="46" fill="#c0c0c0"/>
<rect x="283" y="633" width="1" height="41" fill="#c0c0c0"/>
<rect x="291" y="633" width="1" height="36" fill="#c0c0c0"/>
<rect x="299" y="633" width="1" height="38" fill="#c0c0c0"/>
<rect x="307" y="633" width="1" height="39" fill="#c0c0c0"/>
<rect x="315" y="633" width="1" height="39" fill="#c0c0c0"/>
<rect x="323" y="633" width="1" height="44" fill="#c0c0c0"/>
<rect x="331" y="633" width="1" height="51" fill="#c0c0c0"/>
<rect x="339" y="633" width="1" height="60" fill="#c0c0c0"/>
<rect x="347" y="633" width="1" height="69" fill="#c0c0c0"/>
<rect x="355" y="633" width="1" height="77" fill="#c0c0c0"/>
<rect x="363" y="633" width="1" height="83" fill="#c0c0c0"/>
<rect x="371" y="633" width="1" height="89" fill="#c0c0c0"/>
<rect x="379" y="633" width="1" height="98" fill="#c0c0c0"/>
<rect x="387" y="633" width="1" height="108" fill="#c0c0c0"/>
<rect x="395" y="633" width="1" height="108" fill="#c0c0c0"/>
<rect x="403" y="633" width="1" height="108" fill="#c0c0c0"/>
<rect x="411" y="633" width="1" height="104" fill="#c0c0c0"/>
<rect x="419" y="633" width="1" height="102" fill="#c0c0c0"/>
<rect x="427" y="633" width="1" height="106" fill="#c0c0c0"/>
<rect x="435" y="633" width="1" height="101" fill="#c0c0c0"/>
<rect x="443" y="633" width="1" height="96" fill="#c0c0c0"/>
<rect x="451" y="633" width="1" height="89" fill="#c0c0c0"/>
<rect x="459" y="633" width="1" height="89" fill="#c0c0c0"/>
<rect x="467" y="633" width="1" height="80" fill="#c0c0c0"/>
<rect x="475" y="633" width="1" height="77" fill="#c0c0c0"/>
<rect x="483" y="633" width="1" height="77" fill="#c0c0c0"/>
<rect x="491" y="633" width="1" height="77" fill="#c0c0c0"/>
<rect x="499" y="633" width="1" height="76" fill="#c0c0c0"/>
<rect x="507" y="633" width="1" height="76" fill="#c0c0c0"/>
<rect x="515" y="633" width="1" height="78" fill="#c0c0c0"/>
<rect x="523" y="633" width="1" height="69" fill="#c0c0c0"/>
<rect x="531" y="633" width="1" height="68" fill="#c0c0c0"/>
<rect x="539" y="633" width="1" height="61" fill="#c0c0c0"/>
<rect x="547" y="633" width="1" height="56" fill="#c0c0c0"/>
<rect x="555" y="633" width="1" height="51" fill="#c0c0c0"/>
<rect x="563" y="633" width="1" height="50" fill="#c0c0c0"/>
<rect x="571" y="633" width="1" height="49" fill="#c0c0c0"/>
<rect x="579" y="633" width="1" height="47" fill="#c0c0c0"/>
<rect x="587" y="633" width="1" height="48" fill="#c0c0c0"/>
<rect x="595" y="633" width="1" height="49" fill="#c0c0c0"/>
<rect x="603" y="633" width="1" height="51" fill="#c0c0c0"/>
<rect x="611" y="633" width="1" height="45" fill="#c0c0c0"/>
<rect x="619" y="633" width="1" height="39" fill="#c0c0c0"/>
<rect x="627" y="633" width="1" height="35" fill="#c0c0c0"/>
<rect x="635" y="633" width="1" height="29" fill="#c0c0c0"/>
<rect x="643" y="633" width="1" height="23" fill="#c0c0c0"/>
<rect x="651" y="633" width="1" height="15" fill="#c0c0c0"/>
<rect x="659" y="633" width="1" height="7" fill="#c0c0c0"/>
<rect x="667" y="633" width="1" height="6" fill="#c0c0c0"/>
<rect x="675" y="633" width="1" height="8" fill="#c0c0c0"/>
<rect x="683" y="633" width="1" height="9" fill="#c0c0c0"/>
<rect x="691" y="633" width="1" height="11" fill="#c0c0c0"/>
<rect x="699" y="633" width="1" height="13" fill="#c0c0c0"/>
<rect x="707" y="633" width="1" height="13" fill="#c0c0c0"/>
<rect x="715" y="633" width="1" height="12" fill="#c0c0c0"/>
<rect x="723" y="633" width="1" height="14" fill="#c0c0c0"/>
<rect x="731" y="633" width="1" height="13" fill="#c0c0c0"/>
<rect x="739" y="633" width="1" height="11" fill="#c0c0c0"/>
<rect x="747" y="633" width="1" height="5" fill="#c0c0c0"/>
<rect x="755" y="629" width="1" height="5" fill="#c0c0c0"/>
<rect x="763" y="618" width="1" height="16" fill="#c0c0c0"/>
<rect x="771" y="607" width="1" height="27" fill="#c0c0c0"/>
<rect x="779" y="597" width="1" height="37" fill="#c0c0c0"/>
<rect x="787" y="590" width="1" height="44" fill="#c0c0c0"/>
<rect x="795" y="589" width="1" height="45" fill="#c0c0c0"/>
<rect x="803" y="593" width="1" height="41" fill="#c0c0c0"/>
<rect x="811" y="596" width="1" height="38" fill="#c0c0c0"/>
<rect x="819" y="601" width="1" height="33" fill="#c0c0c0"/>
<rect x="827" y="602" width="1" height="32" fill="#c0c0c0"/>
<rect x="835" y="606" width="1" height="28" fill="#c0c0c0"/>
<rect x="843" y="613" width="1" height="21" fill="#c0c0c0"/>
<rect x="851" y="616" width="1" height="18" fill="#c0c0c0"/>
<rect x="859" y="619" width="1" height="15" fill="#c0c0c0"/>
<rect x="867" y="622" width="1" height="12" fill="#c0c0c0"/>
<rect x="875" y="631" width="1" height="3" fill="#c0c0c0"/>
<rect x="883" y="633" width="1" height="4" fill="#c0c0c0"/>
<rect x="891" y="633" width="1" height="11" fill="#c0c0c0"/>
<rect x="899" y="633" width="1" height="10" fill="#c0c0c0"/>
<rect x="907" y="633" width="1" height="11" fill="#c0c0c0"/>
<rect x="915" y="633" width="1" height="10" fill="#c0c0c0"/>
<rect x="923" y="633" width="1" height="9" fill="#c0c0c0"/>
<rect x="931" y="633" width="1" height="7" fill="#c0c0c0"/>
<rect x="939" y="633" width="1" height="12" fill="#c0c0c0"/>
<rect x="947" y="633" width="1" height="18" fill="#c0c0c0"/>
<rect x="955" y="633" width="1" height="24" fill="#c0c0c0"/>
<rect x="963" y="633" width="1" height="26" fill="#c0c0c0"/>
<rect x="971" y="633" width="1" height="31" fill="#c0c0c0"/>
<rect x="979" y="633" width="1" height="34" fill="#c0c0c0"/>
<rect x="987" y="633" width="1" height="33" fill="#c0c0c0"/>
<rect x="995" y="633" width="1" height="31" fill="#c0c0c0"/>
<rect x="1003" y="633" width="1" height="26" fill="#c0c0c0"/>
<rect x="1011" y="633" width="1" height="20" fill="#c0c0c0"/>
<rect x="1019" y="633" width="1" height="12" fill="#c0c0c0"/>
<rect x="1027" y="633" width="1" height="5" fill="#c0c0c0"/>
<rect x="1035" y="632" width="1" height="2" fill="#c0c0c0"/>
<rect x="1043" y="633" width="1" height="1" fill="#c0c0c0"/>
<rect x="1051" y="633" width="1" height="2" fill="#c0c0c0"/>
<rect x="1059" y="633" width="1" height="10" fill="#c0c0c0"/>
<rect x="1067" y="633" width="1" height="21" fill="#c0c0c0"/>
<rect x="1075" y="633" width="1" height="30" fill="#c0c0c0"/>
<rect x="1083" y="633" width="1" height="23" fill="#c0c0c0"/>
<rect x="1091" y="633" width="1" height="15" fill="#c0c0c0"/>
<rect x="1099" y="633" width="1" height="8" fill="#c0c0c0"/>
<rect x="1107" y="633" width="1" height="3" fill="#c0c0c0"/>
<rect x="1115" y="633" width="1" height="1" fill="#c0c0c0"/>
<rect x="1123" y="633" width="1" height="1" fill="#c0c0c0"/>
<rect x="1131" y="633" width="1" height="2" fill="#c0c0c0"/>
<rect x="1139" y="633" width="1" height="1" fill="#c0c0c0"/>
<rect x="1147" y="633" width="1" height="1" fill="#c0c0c0"/>
<rect x="1155" y="633" width="1" height="1" fill="#c0c0c0"/>
<rect x="1163" y="633" width="1" height="1" fill="#c0c0c0"/>
<rect x="1171" y="633" width="1" height="1" fill="#c0c0c0"/>
<rect x="1179" y="633" width="1" height="1" fill="#c0c0c0"/>
<rect x="1187" y="633" width="1" height="1" fill="#c0c0c0"/>
<rect x="1195" y="633" width="1" height="5" fill="#c0c0c0"/>
<rect x="1203" y="633" width="1" height="9" fill="#c0c0c0"/>
<rect x="1211" y="633" width="1" height="14" fill="#c0c0c0"/>
<rect x="1219" y="633" width="1" height="18" fill="#c0c0c0"/>
<rect x="1227" y="633" width="1" height="18" fill="#c0c0c0"/>
<rect x="1235" y="633" width="1" height="25" fill="#c0c0c0"/>
<rect x="1243" y="633" width="1" height="36" fill="#c0c0c0"/>
<rect x="1251" y="633" width="1" height="47" fill="#c0c0c0"/>
<rect x="1259" y="633" width="1" height="56" fill="#c0c0c0"/>
<rect x="1267" y="633" width="1" height="61" fill="#c0c0c0"/>
<rect x="1275" y="633" width="1" height="65" fill="#c0c0c0"/>
<rect x="1283" y="633" width="1" height="69" fill="#c0c0c0"/>
<rect x="1291" y="633" width="1" height="71" fill="#c0c0c0"/>
<rect x="1299" y="633" width="1" height="76" fill="#c0c0c0"/>
<rect x="1307" y="633" width="1" height="75" fill="#c0c0c0"/>
<rect x="1315" y="633" width="1" height="74" fill="#c0c0c0"/>
<rect x="1323" y="633" width="1" height="74" fill="#c0c0c0"/>
<rect x="1331" y="633" width="1" height="75" fill="#c0c0c0"/>
<rect x="1339" y="633" width="1" height="74" fill="#c0c0c0"/>
<rect x="1347" y="633" width="1" height="74" fill="#c0c0c0"/>
<rect x="1355" y="633" width="1" height="74" fill="#c0c0c0"/>
<rect x="1363" y="633" width="1" height="71" fill="#c0c0c0"/>
<rect x="1371" y="633" width="1" height="68" fill="#c0c0c0"/>
<rect x="1379" y="633" width="1" height="62" fill="#c0c0c0"/>
<rect x="1387" y="633" width="1" height="59" fill="#c0c0c0"/>
<rect x="1395" y="633" width="1" height="52" fill="#c0c0c0"/>
<rect x="1403" y="633" width="1" height="47" fill="#c0c0c0"/>
<rect x="1411" y="633" width="1" height="42" fill="#c0c0c0"/>
<rect x="1419" y="633" width="1" height="44" fill="#c0c0c0"/>
<polyline points="0.5,650.4 9.6,654.4 18.7,657.1 27.8,661.7 38.7,665.7 51.4,673.0 62.4,678.1 75.1,683.2 86.0,687.2 98.8,691.7 106.0,693.0 116.9,692.3 135.1,689.9 155.2,686.8 173.4,682.6 191.5,680.8 209.7,677.2 227.9,676.3 240.5,676.3 253.7,677.7 271.9,678.4 277.3,679.5 290.1,677.5 308.3,675.3 317.4,674.1 333.8,674.1 341.0,677.2 350.1,679.0 359.2,684.4 370.1,691.7 381.1,701.7 393.8,712.6 404.7,721.7 417.5,728.7 428.4,733.6 439.3,737.2 453.8,737.2 464.8,732.7 475.5,729.5 488.7,723.6 506.9,715.4 525.1,709.0 536.0,707.2 554.2,700.8 572.4,693.9 590.6,686.8 605.1,684.1 627.0,678.1 645.2,672.3 661.5,663.5 679.7,653.0 697.9,645.7 710.5,644.4 723.7,642.6 731.0,643.5 747.3,644.4 760.1,640.8 771.0,635.9 781.9,627.1 794.7,618.0 805.6,609.8 814.7,604.4 825.6,599.5 836.5,597.1 843.8,597.1 854.7,601.3 869.3,607.1 880.2,613.5 894.7,621.7 905.6,628.0 920.2,634.4 932.9,638.4 943.2,641.3 951.4,644.4 964.2,646.8 976.9,650.8 987.8,654.8 1002.4,658.1 1013.3,659.0 1024.2,657.1 1035.1,653.0 1046.0,649.3 1056.9,644.4 1067.9,643.1 1086.1,643.1 1097.0,644.6 1115.2,645.3 1133.4,643.0 1144.3,639.9 1155.2,635.3 1169.8,633.5 1191.9,633.2 1202.8,635.4 1211.9,636.6 1222.8,639.0 1233.8,642.6 1244.7,646.8 1252.0,650.8 1259.3,655.9 1268.4,663.9 1277.5,670.9 1288.4,678.1 1299.3,687.3 1306.6,692.7 1317.5,698.5 1326.6,702.2 1339.4,705.5 1350.3,706.4 1370.3,706.4 1379.4,704.5 1394.0,700.4 1404.9,697.3 1419.5,690.5" fill="none" stroke="#ff0000" stroke-width="1" stroke-dasharray="3,2" shape-rendering="crispEdges"/>
</svg>
<text x="0" y="591.8" font-family="'Liberation Sans', Arial, sans-serif" font-size="10" fill="#000" textLength="152.8" lengthAdjust="spacingAndGlyphs">MACD(12,26,9) -0.003534 -0.004682</text>
<text x="1688.8" y="590.1" font-family="'Liberation Sans', Arial, sans-serif" font-size="10" fill="#000" textLength="37" lengthAdjust="spacingAndGlyphs">0.004351</text>
<text x="1688.8" y="636.9" font-family="'Liberation Sans', Arial, sans-serif" font-size="10" fill="#000" textLength="17.5" lengthAdjust="spacingAndGlyphs">0.00</text>
<text x="1688.8" y="746.0" font-family="'Liberation Sans', Arial, sans-serif" font-size="10" fill="#000" textLength="41" lengthAdjust="spacingAndGlyphs">-0.009504</text>
<rect x="1686" y="581" width="2" height="1" fill="#000"/>
<rect x="1686" y="633" width="2" height="1" fill="#000"/>
<rect x="1686" y="748" width="2" height="1" fill="#000"/>
<svg x="0" y="752" width="1685" height="173" viewBox="0 752 1685 173" overflow="hidden">
<line x1="2" y1="787.5" x2="1684" y2="787.5" stroke="#c0c0c0" stroke-width="1" stroke-dasharray="3,3"/>
<line x1="2" y1="838.5" x2="1684" y2="838.5" stroke="#c0c0c0" stroke-width="1" stroke-dasharray="3,3"/>
<line x1="2" y1="899.5" x2="1684" y2="899.5" stroke="#c0c0c0" stroke-width="1" stroke-dasharray="3,3"/>
<polyline points="-4.5,863.0 3.5,868.0 11.5,848.1 19.5,849.4 27.5,857.0 35.5,865.7 43.5,876.6 51.5,876.3 59.5,850.9 67.5,855.2 75.5,858.3 83.5,853.7 91.5,857.0 99.5,850.6 107.5,850.6 115.5,849.6 123.5,857.8 131.5,862.0 139.5,853.3 147.5,852.4 155.5,854.3 163.5,853.3 171.5,844.8 179.5,852.2 187.5,855.2 195.5,856.5 203.5,857.0 211.5,857.4 219.5,864.4 227.5,861.5 235.5,870.4 243.5,861.5 251.5,858.3 259.5,860.7 267.5,855.6 275.5,861.1 283.5,844.8 291.5,841.3 299.5,858.3 307.5,858.3 315.5,856.5 323.5,868.1 331.5,873.1 339.5,879.3 347.5,883.0 355.5,884.3 363.5,886.1 371.5,888.0 379.5,893.0 387.5,896.3 395.5,878.1 403.5,878.1 411.5,865.7 419.5,872.2 427.5,878.1 435.5,872.6 443.5,863.3 451.5,864.4 459.5,856.5 467.5,851.5 475.5,861.1 483.5,864.3 491.5,865.4 499.5,866.3 507.5,869.4 515.5,875.0 523.5,843.5 531.5,856.1 539.5,845.4 547.5,846.3 555.5,846.3 563.5,851.9 571.5,853.3 579.5,849.4 587.5,857.0 595.5,859.3 603.5,858.3 611.5,844.1 619.5,840.4 627.5,843.1 635.5,837.0 643.5,834.3 651.5,829.3 659.5,825.6 667.5,839.3 675.5,844.1 683.5,845.4 691.5,847.2 699.5,848.5 707.5,847.2 715.5,841.7 723.5,848.1 731.5,843.0 739.5,839.4 747.5,828.7 755.5,815.7 763.5,808.9 771.5,805.6 779.5,802.8 787.5,803.3 795.5,817.6 803.5,831.5 811.5,828.7 819.5,834.3 827.5,830.6 835.5,837.0 843.5,844.1 851.5,838.5 859.5,839.3 867.5,839.3 875.5,856.5 883.5,855.6 891.5,858.3 899.5,840.4 907.5,844.4 915.5,841.3 923.5,840.4 931.5,840.4 939.5,851.5 947.5,860.2 955.5,861.5 963.5,856.5 971.5,862.0 979.5,862.0 987.5,850.9 995.5,847.8 1003.5,841.1 1011.5,829.3 1019.5,824.4 1027.5,824.4 1035.5,820.4 1043.5,844.1 1051.5,842.2 1059.5,856.5 1067.5,865.2 1075.5,866.3 1083.5,834.8 1091.5,831.5 1099.5,828.7 1107.5,832.4 1115.5,835.6 1123.5,838.5 1131.5,837.4 1139.5,840.4 1147.5,838.5 1155.5,840.4 1163.5,839.3 1171.5,842.2 1179.5,836.7 1187.5,840.7 1195.5,849.1 1203.5,852.8 1211.5,858.3 1219.5,859.3 1227.5,844.8 1235.5,864.4 1243.5,871.3 1251.5,875.9 1259.5,877.4 1267.5,872.6 1275.5,874.1 1283.5,877.4 1291.5,874.4 1299.5,879.3 1307.5,866.3 1315.5,868.1 1323.5,871.3 1331.5,873.1 1339.5,873.1 1347.5,874.1 1355.5,876.3 1363.5,867.6 1371.5,867.0 1379.5,858.3 1387.5,858.3 1395.5,848.5 1403.5,849.1 1411.5,854.6 1419.5,863.9" fill="none" stroke="#1e90ff" stroke-width="1" shape-rendering="crispEdges"/>
</svg>
<text x="0" y="764" font-family="'Liberation Sans', Arial, sans-serif" font-size="10" fill="#000" textLength="67" lengthAdjust="spacingAndGlyphs">RSI(14) 34.5126</text>
<text x="1689" y="761.9" font-family="'Liberation Sans', Arial, sans-serif" font-size="10" fill="#000" textLength="14.8" lengthAdjust="spacingAndGlyphs">100</text>
<text x="1689" y="790.9" font-family="'Liberation Sans', Arial, sans-serif" font-size="10" fill="#000" textLength="9.8" lengthAdjust="spacingAndGlyphs">80</text>
<text x="1689" y="842.0" font-family="'Liberation Sans', Arial, sans-serif" font-size="10" fill="#000" textLength="9.8" lengthAdjust="spacingAndGlyphs">50</text>
<text x="1689" y="902.8" font-family="'Liberation Sans', Arial, sans-serif" font-size="10" fill="#000" textLength="9.3" lengthAdjust="spacingAndGlyphs">15</text>
<text x="1689" y="921.9" font-family="'Liberation Sans', Arial, sans-serif" font-size="10" fill="#000" textLength="4.8" lengthAdjust="spacingAndGlyphs">0</text>
<rect x="1686" y="753" width="2" height="1" fill="#000"/>
<rect x="1686" y="924" width="2" height="1" fill="#000"/>
<text x="-5.6" y="938" font-family="'Liberation Sans', Arial, sans-serif" font-size="10" letter-spacing="-0.45" fill="#000">2 Jun 2020</text>
<rect x="59" y="925" width="1" height="4" fill="#000"/>
<text x="58.4" y="938" font-family="'Liberation Sans', Arial, sans-serif" font-size="10" letter-spacing="-0.45" fill="#000">12 Jun 2020</text>
<rect x="123" y="925" width="1" height="4" fill="#000"/>
<text x="122.4" y="938" font-family="'Liberation Sans', Arial, sans-serif" font-size="10" letter-spacing="-0.45" fill="#000">22 Jun 2020</text>
<rect x="187" y="925" width="1" height="4" fill="#000"/>
<text x="186.4" y="938" font-family="'Liberation Sans', Arial, sans-serif" font-size="10" letter-spacing="-0.45" fill="#000">1 Jul 2020</text>
<rect x="251" y="925" width="1" height="4" fill="#000"/>
<text x="250.4" y="938" font-family="'Liberation Sans', Arial, sans-serif" font-size="10" letter-spacing="-0.45" fill="#000">10 Jul 2020</text>
<rect x="315" y="925" width="1" height="4" fill="#000"/>
<text x="314.4" y="938" font-family="'Liberation Sans', Arial, sans-serif" font-size="10" letter-spacing="-0.45" fill="#000">20 Jul 2020</text>
<rect x="379" y="925" width="1" height="4" fill="#000"/>
<text x="378.4" y="938" font-family="'Liberation Sans', Arial, sans-serif" font-size="10" letter-spacing="-0.45" fill="#000">29 Jul 2020</text>
<rect x="443" y="925" width="1" height="4" fill="#000"/>
<text x="442.4" y="938" font-family="'Liberation Sans', Arial, sans-serif" font-size="10" letter-spacing="-0.45" fill="#000">7 Aug 2020</text>
<rect x="507" y="925" width="1" height="4" fill="#000"/>
<text x="506.4" y="938" font-family="'Liberation Sans', Arial, sans-serif" font-size="10" letter-spacing="-0.45" fill="#000">17 Aug 2020</text>
<rect x="571" y="925" width="1" height="4" fill="#000"/>
<text x="570.4" y="938" font-family="'Liberation Sans', Arial, sans-serif" font-size="10" letter-spacing="-0.45" fill="#000">26 Aug 2020</text>
<rect x="635" y="925" width="1" height="4" fill="#000"/>
<text x="634.4" y="938" font-family="'Liberation Sans', Arial, sans-serif" font-size="10" letter-spacing="-0.45" fill="#000">4 Sep 2020</text>
<rect x="699" y="925" width="1" height="4" fill="#000"/>
<text x="698.4" y="938" font-family="'Liberation Sans', Arial, sans-serif" font-size="10" letter-spacing="-0.45" fill="#000">14 Sep 2020</text>
<rect x="763" y="925" width="1" height="4" fill="#000"/>
<text x="762.4" y="938" font-family="'Liberation Sans', Arial, sans-serif" font-size="10" letter-spacing="-0.45" fill="#000">23 Sep 2020</text>
<rect x="827" y="925" width="1" height="4" fill="#000"/>
<text x="826.4" y="938" font-family="'Liberation Sans', Arial, sans-serif" font-size="10" letter-spacing="-0.45" fill="#000">2 Oct 2020</text>
<rect x="891" y="925" width="1" height="4" fill="#000"/>
<text x="890.4" y="938" font-family="'Liberation Sans', Arial, sans-serif" font-size="10" letter-spacing="-0.45" fill="#000">12 Oct 2020</text>
<rect x="955" y="925" width="1" height="4" fill="#000"/>
<text x="954.4" y="938" font-family="'Liberation Sans', Arial, sans-serif" font-size="10" letter-spacing="-0.45" fill="#000">21 Oct 2020</text>
<rect x="1019" y="925" width="1" height="4" fill="#000"/>
<text x="1018.4" y="938" font-family="'Liberation Sans', Arial, sans-serif" font-size="10" letter-spacing="-0.45" fill="#000">30 Oct 2020</text>
<rect x="1083" y="925" width="1" height="4" fill="#000"/>
<text x="1082.4" y="938" font-family="'Liberation Sans', Arial, sans-serif" font-size="10" letter-spacing="-0.45" fill="#000">9 Nov 2020</text>
<rect x="1147" y="925" width="1" height="4" fill="#000"/>
<text x="1146.4" y="938" font-family="'Liberation Sans', Arial, sans-serif" font-size="10" letter-spacing="-0.45" fill="#000">18 Nov 2020</text>
<rect x="1211" y="925" width="1" height="4" fill="#000"/>
<text x="1210.4" y="938" font-family="'Liberation Sans', Arial, sans-serif" font-size="10" letter-spacing="-0.45" fill="#000">27 Nov 2020</text>
<rect x="1275" y="925" width="1" height="4" fill="#000"/>
<text x="1274.4" y="938" font-family="'Liberation Sans', Arial, sans-serif" font-size="10" letter-spacing="-0.45" fill="#000">7 Dec 2020</text>
<rect x="1339" y="925" width="1" height="4" fill="#000"/>
<text x="1338.4" y="938" font-family="'Liberation Sans', Arial, sans-serif" font-size="10" letter-spacing="-0.45" fill="#000">16 Dec 2020</text>
<rect x="1403" y="925" width="1" height="4" fill="#000"/>
<text x="1402.4" y="938" font-family="'Liberation Sans', Arial, sans-serif" font-size="10" letter-spacing="-0.45" fill="#000">27 Dec 2020</text>
<defs>
<linearGradient id="gbtn" x1="0" y1="0" x2="0" y2="1"><stop offset="0" stop-color="#f55a5a"/><stop offset="1" stop-color="#e23434"/></linearGradient>
<linearGradient id="gprice" x1="0" y1="0" x2="0" y2="1"><stop offset="0" stop-color="#e33636"/><stop offset="0.45" stop-color="#cf1c1c"/><stop offset="1" stop-color="#b00303"/></linearGradient>
<linearGradient id="gspin" x1="0" y1="0" x2="0" y2="1"><stop offset="0" stop-color="#f2f2f2"/><stop offset="0.45" stop-color="#e6e6e6"/><stop offset="0.5" stop-color="#d9d9d9"/><stop offset="1" stop-color="#d2d2d2"/></linearGradient>
</defs>
<rect x="0" y="42" width="219" height="67" fill="#ffffff"/>
<path d="M0 44.5H49.5V68H0z" fill="url(#gbtn)"/>
<rect x="0" y="44" width="50" height="1" fill="#c00000"/>
<rect x="49" y="44" width="1" height="24" fill="#c00000"/>
<rect x="0" y="68" width="107" height="40" fill="url(#gprice)"/>
<rect x="0" y="68" width="107" height="1" fill="#b00000"/>
<rect x="106" y="68" width="1" height="40" fill="#b00000"/>
<rect x="2" y="67" width="44" height="1" fill="#900000"/><rect x="2" y="68" width="44" height="1" fill="#f07070"/>
<path d="M165 44.5H217V68H165z" fill="url(#gbtn)"/>
<rect x="165" y="44" width="52" height="1" fill="#c00000"/>
<rect x="165" y="44" width="1" height="24" fill="#c00000"/>
<rect x="216" y="44" width="1" height="64" fill="#b00000"/>
<rect x="109" y="68" width="108" height="40" fill="url(#gprice)"/>
<rect x="109" y="68" width="108" height="1" fill="#b00000"/>
<rect x="109" y="68" width="1" height="40" fill="#b00000"/>
<rect x="169" y="67" width="44" height="1" fill="#900000"/><rect x="169" y="68" width="44" height="1" fill="#f07070"/>
<rect x="52.5" y="44.5" width="110" height="21" fill="#fff" stroke="#a6a6a6"/>
<rect x="53.5" y="45.5" width="19" height="19" fill="url(#gspin)" stroke="#c8c8c8"/>
<rect x="142.5" y="45.5" width="19" height="19" fill="url(#gspin)" stroke="#c8c8c8"/>
<rect x="73" y="45" width="1" height="20" fill="#a6a6a6"/><rect x="141" y="45" width="1" height="20" fill="#a6a6a6"/>
<path d="M60.5 53.5h5l-2.5 2.5z" fill="#5565cc"/>
<path d="M149.5 56h5l-2.5-2.5z" fill="#5565cc"/>
<text x="137.6" y="58.7" text-anchor="end" font-family="'Liberation Sans', Arial, sans-serif" font-size="11.4" fill="#000">1.00</text>
<text x="10.4" y="59.7" font-family="'Liberation Sans', Arial, sans-serif" font-size="11.4" fill="#fff" textLength="25.4" lengthAdjust="spacingAndGlyphs">SELL</text>
<text x="178.4" y="59.6" font-family="'Liberation Sans', Arial, sans-serif" font-size="11.4" fill="#fff" textLength="23.6" lengthAdjust="spacingAndGlyphs">BUY</text>
<text x="17.6" y="99" font-family="'Liberation Sans', Arial, sans-serif" font-size="12.2" font-weight="bold" fill="#fff" textLength="24.4" lengthAdjust="spacingAndGlyphs">0.88</text>
<text x="44.6" y="99" font-family="'Liberation Sans', Arial, sans-serif" font-size="33" fill="#fff" textLength="35" lengthAdjust="spacingAndGlyphs">41</text>
<text x="84.6" y="83" font-family="'Liberation Sans', Arial, sans-serif" font-size="12" font-weight="bold" fill="#fff">6</text>
<text x="127.8" y="99" font-family="'Liberation Sans', Arial, sans-serif" font-size="12.2" font-weight="bold" fill="#fff" textLength="24.4" lengthAdjust="spacingAndGlyphs">0.88</text>
<text x="155.4" y="99" font-family="'Liberation Sans', Arial, sans-serif" font-size="33" fill="#fff" textLength="35" lengthAdjust="spacingAndGlyphs">43</text>
<text x="195.6" y="83" font-family="'Liberation Sans', Arial, sans-serif" font-size="12" font-weight="bold" fill="#fff">8</text>
<g shape-rendering="auto">
<rect x="0" y="0" width="1732" height="20" fill="#f0f0f0"/>
<rect x="0" y="19" width="1732" height="1" fill="#f6f6f6"/>
<rect x="0" y="20" width="1732" height="1" fill="#a2a2a2"/>
<rect x="0" y="21" width="1732" height="1" fill="#666666"/>
<rect x="46" y="1" width="1" height="17" fill="#a8a8a8"/><rect x="47" y="1" width="1" height="17" fill="#ffffff"/>
<rect x="320" y="1" width="1" height="17" fill="#a8a8a8"/><rect x="321" y="1" width="1" height="17" fill="#ffffff"/>
<rect x="377" y="1" width="1" height="17" fill="#a8a8a8"/><rect x="378" y="1" width="1" height="17" fill="#ffffff"/>
<rect x="467" y="1" width="1" height="17" fill="#a8a8a8"/><rect x="468" y="1" width="1" height="17" fill="#ffffff"/>
<rect x="529" y="1" width="1" height="17" fill="#a8a8a8"/><rect x="530" y="1" width="1" height="17" fill="#ffffff"/>
<rect x="717" y="1" width="1" height="17" fill="#a8a8a8"/><rect x="718" y="1" width="1" height="17" fill="#ffffff"/>
<rect x="282" y="0" width="1" height="20" fill="#b4b4b4"/><rect x="283" y="0" width="1" height="20" fill="#fafafa"/>
<rect x="650" y="0" width="1" height="20" fill="#b4b4b4"/><rect x="651" y="0" width="1" height="20" fill="#fafafa"/>
<rect x="956" y="0" width="1" height="20" fill="#b4b4b4"/><rect x="957" y="0" width="1" height="20" fill="#fafafa"/>
<rect x="1217" y="0" width="1" height="20" fill="#b4b4b4"/><rect x="1218" y="0" width="1" height="20" fill="#fafafa"/>
<rect x="286" y="1" width="3" height="1" fill="#a8a8a8"/>
<rect x="286" y="3" width="3" height="1" fill="#a8a8a8"/>
<rect x="286" y="5" width="3" height="1" fill="#a8a8a8"/>
<rect x="286" y="7" width="3" height="1" fill="#a8a8a8"/>
<rect x="286" y="9" width="3" height="1" fill="#a8a8a8"/>
<rect x="286" y="11" width="3" height="1" fill="#a8a8a8"/>
<rect x="286" y="13" width="3" height="1" fill="#a8a8a8"/>
<rect x="286" y="15" width="3" height="1" fill="#a8a8a8"/>
<rect x="654" y="1" width="3" height="1" fill="#a8a8a8"/>
<rect x="654" y="3" width="3" height="1" fill="#a8a8a8"/>
<rect x="654" y="5" width="3" height="1" fill="#a8a8a8"/>
<rect x="654" y="7" width="3" height="1" fill="#a8a8a8"/>
<rect x="654" y="9" width="3" height="1" fill="#a8a8a8"/>
<rect x="654" y="11" width="3" height="1" fill="#a8a8a8"/>
<rect x="654" y="13" width="3" height="1" fill="#a8a8a8"/>
<rect x="654" y="15" width="3" height="1" fill="#a8a8a8"/>
<rect x="960" y="1" width="3" height="1" fill="#a8a8a8"/>
<rect x="960" y="3" width="3" height="1" fill="#a8a8a8"/>
<rect x="960" y="5" width="3" height="1" fill="#a8a8a8"/>
<rect x="960" y="7" width="3" height="1" fill="#a8a8a8"/>
<rect x="960" y="9" width="3" height="1" fill="#a8a8a8"/>
<rect x="960" y="11" width="3" height="1" fill="#a8a8a8"/>
<rect x="960" y="13" width="3" height="1" fill="#a8a8a8"/>
<rect x="960" y="15" width="3" height="1" fill="#a8a8a8"/>
<rect x="660" y="1" width="1" height="17" fill="#a8a8a8"/>
<rect x="321" y="0" width="24" height="19" fill="#f7f7f7"/>
<rect x="473" y="0" width="24" height="19" fill="#f7f7f7"/>
<rect x="501" y="0" width="24" height="19" fill="#f7f7f7"/>
<rect x="662" y="0" width="24" height="19" fill="#f7f7f7"/>
<rect x="1135" y="0" width="24" height="19" fill="#f7f7f7"/>
<rect x="1134" y="0" width="1" height="19" fill="#c4c4c4"/><rect x="1159" y="0" width="1" height="19" fill="#e4e4e4"/>
<rect x="-2" y="1.5" width="10" height="13" fill="#fff" stroke="#2f6fd0" stroke-width="1"/>
<rect x="0" y="4" width="7" height="1" fill="#8fb2e8"/>
<rect x="0" y="6" width="7" height="1" fill="#8fb2e8"/>
<rect x="0" y="8" width="7" height="1" fill="#8fb2e8"/>
<rect x="0" y="10" width="7" height="1" fill="#8fb2e8"/>
<rect x="0" y="12" width="7" height="1" fill="#8fb2e8"/>
<rect x="22.5" y="1.5" width="10" height="12" fill="#f8f8f8" stroke="#9a9a9a"/>
<circle cx="30" cy="8" r="4.5" fill="#dfe9f7" stroke="#4a7fc8" stroke-width="1.3"/>
<line x1="33" y1="11" x2="38" y2="16" stroke="#c9a227" stroke-width="2.2"/>
<path d="M56.5 1.5h7l3 3v9h-10z" fill="#fafafa" stroke="#707070"/>
<rect x="58" y="5" width="5" height="1" fill="#707070"/><rect x="58" y="8" width="5" height="1" fill="#707070"/>
<path d="M63 10h3v-3h3v3h3v3h-3v3h-3v-3h-3z" fill="#2fb52f" stroke="#1a8a1a" stroke-width="0.5"/>
<text x="75" y="11.5" font-family="'Liberation Sans', 'Noto Sans CJK SC', sans-serif" font-size="12" fill="#000">新订单</text>
<path d="M123.5 8l6-6 9 5-6 7z" fill="#e8b830" stroke="#9a7010" stroke-width="0.8"/>
<path d="M123.5 8l9 6 0 1.5-9-6z" fill="#b08010"/>
<rect x="153.5" y="1.5" width="9" height="10" fill="#5aa0e8" stroke="#2a60b0"/>
<rect x="155" y="4" width="6" height="2" fill="#e8f2fc"/>
<ellipse cx="159" cy="13" rx="7.5" ry="3" fill="#eef3f8" stroke="#8aa0b8"/>
<circle cx="187" cy="8" r="7" fill="none" stroke="#5a8ad8" stroke-width="1.2"/>
<circle cx="187" cy="8" r="4.5" fill="none" stroke="#3a78c8" stroke-width="1.2"/>
<circle cx="187" cy="8" r="1.8" fill="#2a58b8"/>
<path d="M187 8 L190 15" stroke="#30a040" stroke-width="1.5"/>
<ellipse cx="214" cy="5" rx="7" ry="3.5" fill="#7ab8e0" stroke="#4a88b8" stroke-width="0.8"/>
<path d="M207 7 L213 15 L220 15 L222 7z" fill="#f0c840" stroke="#b89020" stroke-width="0.8"/>
<circle cx="218.5" cy="12" r="3.8" fill="#e02020"/><rect x="217" y="10.5" width="3" height="3" fill="#fff"/>
<text x="227.5" y="11.5" font-family="'Liberation Sans', 'Noto Sans CJK SC', sans-serif" font-size="12" fill="#000">自动交易</text>
<path d="M301 2v13h13" fill="none" stroke="#505050" stroke-width="1"/>
<path d="M299 4l2-2 2 2" fill="none" stroke="#505050"/>
<path d="M313 13l2 2-2 2" fill="none" stroke="#505050"/>
<path d="M306.5 11h1.5v-6h2" fill="none" stroke="#20a020" stroke-width="1.2"/>
<path d="M329 2v13h13" fill="none" stroke="#505050" stroke-width="1"/>
<path d="M327 4l2-2 2 2" fill="none" stroke="#505050"/>
<path d="M341 13l2 2-2 2" fill="none" stroke="#505050"/>
<rect x="331.5" y="3.5" width="4" height="6" fill="#33cc33" stroke="#1a8a1a"/><rect x="333" y="0" width="1" height="13" fill="#1a8a1a"/>
<path d="M357 2v13h13" fill="none" stroke="#505050" stroke-width="1"/>
<path d="M355 4l2-2 2 2" fill="none" stroke="#505050"/>
<path d="M369 13l2 2-2 2" fill="none" stroke="#505050"/>
<path d="M358 11 Q362 3 368 7" fill="none" stroke="#20a020" stroke-width="1.2"/>
<circle cx="393" cy="6.5" r="5" fill="#e4eef9" stroke="#3a70c8" stroke-width="1.5"/>
<rect x="390" y="6" width="6" height="1.6" fill="#3a70c8"/>
<rect x="392" y="3.5" width="1.6" height="6" fill="#3a70c8"/>
<line x1="397" y1="11" x2="401" y2="15" stroke="#c9a227" stroke-width="2.2"/>
<circle cx="420" cy="6.5" r="5" fill="#e4eef9" stroke="#3a70c8" stroke-width="1.5"/>
<rect x="417" y="6" width="6" height="1.6" fill="#3a70c8"/>
<line x1="424" y1="11" x2="428" y2="15" stroke="#c9a227" stroke-width="2.2"/>
<rect x="442" y="0" width="8" height="7.5" fill="#3cae3c"/><rect x="450" y="0" width="8" height="7.5" fill="#3a6fd0"/>
<rect x="442" y="8" width="8" height="7.5" fill="#3a6fd0"/><rect x="450" y="8" width="8" height="7.5" fill="#3cae3c"/>
<rect x="443.5" y="3" width="5" height="2.5" fill="#e8f0ff"/>
<rect x="451.5" y="3" width="5" height="2.5" fill="#e8f0ff"/>
<rect x="443.5" y="11" width="5" height="2.5" fill="#e8f0ff"/>
<rect x="451.5" y="11" width="5" height="2.5" fill="#e8f0ff"/>
<path d="M480 2v13h13" fill="none" stroke="#505050" stroke-width="1"/>
<path d="M478 4l2-2 2 2" fill="none" stroke="#505050"/>
<path d="M492 13l2 2-2 2" fill="none" stroke="#505050"/>
<path d="M486 4l4 3.5-4 3.5z" fill="#20b020"/>
<path d="M508 2v13h13" fill="none" stroke="#505050" stroke-width="1"/>
<path d="M506 4l2-2 2 2" fill="none" stroke="#505050"/>
<path d="M520 13l2 2-2 2" fill="none" stroke="#505050"/>
<rect x="514" y="2" width="1" height="10" fill="#2060c0"/><path d="M521 7l-4-2.5v5z" fill="#e04020"/><rect x="517" y="6.5" width="4" height="1" fill="#e04020"/>
<path d="M539.5 1.5h6l3 3v9h-9z" fill="#fafafa" stroke="#707070"/>
<path d="M546 9h3v-3h3v3h3v3h-3v3h-3v-3h-3z" fill="#2fb52f"/>
<path d="M561 7h6l-3 3z" fill="#000"/>
<path d="M600 7h6l-3 3z" fill="#000"/>
<path d="M639 7h6l-3 3z" fill="#000"/>
<path d="M945 7h6l-3 3z" fill="#000"/>
<circle cx="585" cy="8" r="7" fill="#2f76d8" stroke="#1a4fa0"/><circle cx="585" cy="8" r="4.8" fill="#f4f8ff"/>
<path d="M585 5v3h2" fill="none" stroke="#333" stroke-width="0.8"/>
<rect x="616.5" y="1.5" width="15" height="13" fill="#fafcff" stroke="#2a60b0"/><rect x="617" y="2" width="14" height="2" fill="#5a8ad8"/>
<path d="M618 7l3-1 3 1 3-1 3 0" fill="none" stroke="#c03020" stroke-width="0.8"/>
<path d="M618 12l3-2 3 1 3-2 3 1" fill="none" stroke="#20a020" stroke-width="0.8"/>
<rect x="617" y="9" width="14" height="0.8" fill="#2a60b0"/>
<path d="M668 1v13l3-3 2.5 4.5 2-1-2.5-4.5h4z" fill="#505050"/>
<rect x="700" y="1" width="1" height="15" fill="#505050"/><rect x="693" y="8" width="15" height="1" fill="#505050"/>
<rect x="734" y="3" width="1" height="12" fill="#505050"/>
<rect x="757" y="8" width="12" height="1" fill="#505050"/>
<line x1="785" y1="14.5" x2="797" y2="2.5" stroke="#505050" stroke-width="1"/>
<path d="M811 13l8-9M814 14l8-9M811 9h12M812 12h10" fill="none" stroke="#505050" stroke-width="0.9"/>
<text x="822.5" y="17.5" font-family="'Liberation Sans', Arial, sans-serif" font-size="7" font-weight="bold" fill="#404040">E</text>
<rect x="840" y="2" width="1" height="1" fill="#707070"/>
<rect x="842" y="2" width="1" height="1" fill="#707070"/>
<rect x="844" y="2" width="1" height="1" fill="#707070"/>
<rect x="846" y="2" width="1" height="1" fill="#707070"/>
<rect x="848" y="2" width="1" height="1" fill="#707070"/>
<rect x="850" y="2" width="1" height="1" fill="#707070"/>
<rect x="852" y="2" width="1" height="1" fill="#707070"/>
<rect x="840" y="5" width="1" height="1" fill="#707070"/>
<rect x="842" y="5" width="1" height="1" fill="#707070"/>
<rect x="844" y="5" width="1" height="1" fill="#707070"/>
<rect x="846" y="5" width="1" height="1" fill="#707070"/>
<rect x="848" y="5" width="1" height="1" fill="#707070"/>
<rect x="850" y="5" width="1" height="1" fill="#707070"/>
<rect x="852" y="5" width="1" height="1" fill="#707070"/>
<rect x="840" y="8" width="1" height="1" fill="#707070"/>
<rect x="842" y="8" width="1" height="1" fill="#707070"/>
<rect x="844" y="8" width="1" height="1" fill="#707070"/>
<rect x="846" y="8" width="1" height="1" fill="#707070"/>
<rect x="848" y="8" width="1" height="1" fill="#707070"/>
<rect x="850" y="8" width="1" height="1" fill="#707070"/>
<rect x="852" y="8" width="1" height="1" fill="#707070"/>
<rect x="840" y="11" width="1" height="1" fill="#707070"/>
<rect x="842" y="11" width="1" height="1" fill="#707070"/>
<rect x="844" y="11" width="1" height="1" fill="#707070"/>
<rect x="846" y="11" width="1" height="1" fill="#707070"/>
<rect x="848" y="11" width="1" height="1" fill="#707070"/>
<rect x="850" y="11" width="1" height="1" fill="#707070"/>
<rect x="852" y="11" width="1" height="1" fill="#707070"/>
<text x="850" y="17.5" font-family="'Liberation Sans', Arial, sans-serif" font-size="7" font-weight="bold" fill="#404040">F</text>
<text x="870" y="13" font-family="'Liberation Sans', Arial, sans-serif" font-size="12" fill="#505050">A</text>
<rect x="896" y="2" width="1" height="1" fill="#707070"/><rect x="896" y="14" width="1" height="1" fill="#707070"/>
<rect x="898" y="2" width="1" height="1" fill="#707070"/><rect x="898" y="14" width="1" height="1" fill="#707070"/>
<rect x="900" y="2" width="1" height="1" fill="#707070"/><rect x="900" y="14" width="1" height="1" fill="#707070"/>
<rect x="902" y="2" width="1" height="1" fill="#707070"/><rect x="902" y="14" width="1" height="1" fill="#707070"/>
<rect x="904" y="2" width="1" height="1" fill="#707070"/><rect x="904" y="14" width="1" height="1" fill="#707070"/>
<rect x="906" y="2" width="1" height="1" fill="#707070"/><rect x="906" y="14" width="1" height="1" fill="#707070"/>
<rect x="908" y="2" width="1" height="1" fill="#707070"/><rect x="908" y="14" width="1" height="1" fill="#707070"/>
<rect x="896" y="2" width="1" height="1" fill="#707070"/><rect x="908" y="2" width="1" height="1" fill="#707070"/>
<rect x="896" y="4" width="1" height="1" fill="#707070"/><rect x="908" y="4" width="1" height="1" fill="#707070"/>
<rect x="896" y="6" width="1" height="1" fill="#707070"/><rect x="908" y="6" width="1" height="1" fill="#707070"/>
<rect x="896" y="8" width="1" height="1" fill="#707070"/><rect x="908" y="8" width="1" height="1" fill="#707070"/>
<rect x="896" y="10" width="1" height="1" fill="#707070"/><rect x="908" y="10" width="1" height="1" fill="#707070"/>
<rect x="896" y="12" width="1" height="1" fill="#707070"/><rect x="908" y="12" width="1" height="1" fill="#707070"/>
<rect x="896" y="14" width="1" height="1" fill="#707070"/><rect x="908" y="14" width="1" height="1" fill="#707070"/>
<text x="898.5" y="13" font-family="'Liberation Sans', Arial, sans-serif" font-size="11" font-weight="bold" fill="#505050">T</text>
<path d="M924 5l3-3 3 3-3 3z M932 11l3-3 3 3-3 3z" fill="#404040"/><path d="M928 9l2 2 3-4" fill="none" stroke="#404040"/>
<text x="971" y="12.3" font-family="'Liberation Sans', Arial, sans-serif" font-size="9.6" fill="#3c3c3c">M1</text>
<text x="999.4" y="12.3" font-family="'Liberation Sans', Arial, sans-serif" font-size="9.6" fill="#3c3c3c">M5</text>
<text x="1025.5" y="12.3" font-family="'Liberation Sans', Arial, sans-serif" font-size="9.6" fill="#3c3c3c">M15</text>
<text x="1053.5" y="12.3" font-family="'Liberation Sans', Arial, sans-serif" font-size="9.6" fill="#3c3c3c">M30</text>
<text x="1084.5" y="12.3" font-family="'Liberation Sans', Arial, sans-serif" font-size="9.6" fill="#3c3c3c">H1</text>
<text x="1111.4" y="12.3" font-family="'Liberation Sans', Arial, sans-serif" font-size="9.6" fill="#3c3c3c">H4</text>
<text x="1140.4" y="12.3" font-family="'Liberation Sans', Arial, sans-serif" font-size="9.6" fill="#3c3c3c">D1</text>
<text x="1167.7" y="12.3" font-family="'Liberation Sans', Arial, sans-serif" font-size="9.6" fill="#3c3c3c">W1</text>
<text x="1194.5" y="12.3" font-family="'Liberation Sans', Arial, sans-serif" font-size="9.6" fill="#3c3c3c">MN</text>
<circle cx="1687.5" cy="5.5" r="3.6" fill="none" stroke="#2a5ad0" stroke-width="1.4"/>
<line x1="1685" y1="8.3" x2="1680.5" y2="12.6" stroke="#2a5ad0" stroke-width="2"/>
<ellipse cx="1710" cy="11" rx="6" ry="4.5" fill="#e8eaf0" stroke="#b8b8c0"/>
<path d="M1707 14l-1 3 4-2.5z" fill="#c8c8d0"/>
<circle cx="1718.5" cy="6.2" r="8" fill="#d83a20"/>
<text x="1715.6" y="10.6" font-family="'Liberation Sans', Arial, sans-serif" font-size="11" fill="#fff">1</text>
</g>
</svg></body></html>
